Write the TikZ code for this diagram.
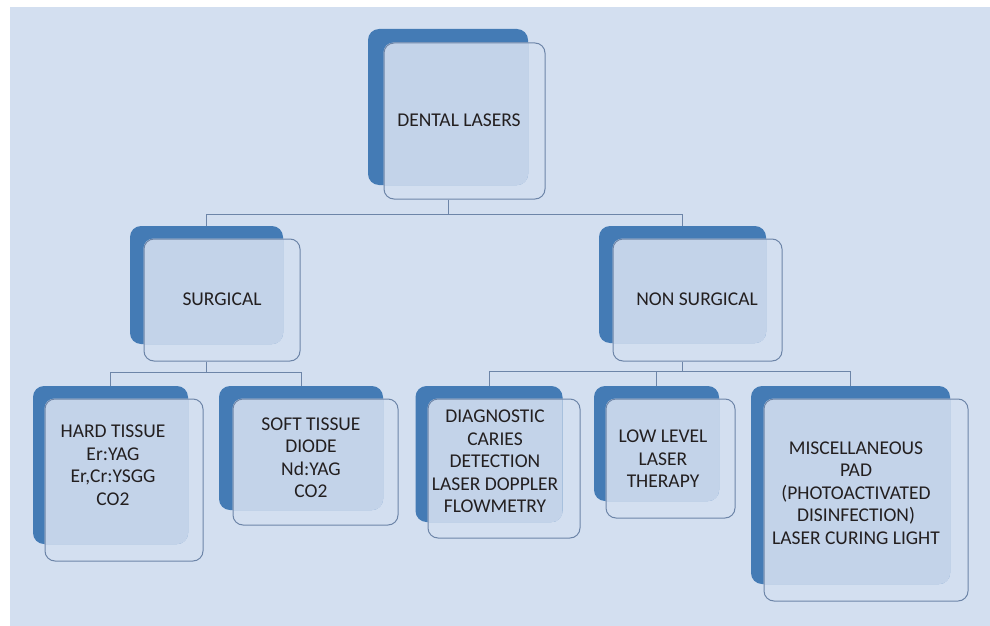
\documentclass[tikz,border=0pt]{standalone}
\usepackage{fontspec}
\setmainfont{Carlito}
\usetikzlibrary{positioning}
\definecolor{pagebg}{HTML}{D3DFF0}
\definecolor{laserblue}{HTML}{447BB5}
\definecolor{lasershade}{HTML}{C3D3E9}
\definecolor{laserline}{HTML}{6D85A8}
\definecolor{lasertext}{HTML}{231F20}
\pgfdeclarelayer{boxbase}
\pgfdeclarelayer{boxshade}
\pgfsetlayers{boxbase,boxshade,main}
\tikzset{
  boxback/.style={fill=laserblue, rounded corners=11pt, inner sep=0pt},
  boxframe/.style={draw=laserline, line width=1pt, rounded corners=10pt, inner sep=0pt},
  boxtext/.style={align=center, inner sep=0pt, text=lasertext,
    font=\fontsize{19.5}{22.5}\selectfont},
  boxlink/.style={draw=laserline, line width=1pt},
}

\begin{document}
\begin{tikzpicture}[x=1pt, y=-1pt]
  \useasboundingbox (0,0) rectangle (990,626);
  \begin{pgfonlayer}{boxbase}
    \fill[pagebg] (10,7) rectangle (990,626);
    % dark blue backs
    \node[boxback, minimum width=160pt, minimum height=156pt] (root) at (448,107) {};
    \node[boxback, minimum width=153pt, minimum height=118pt] (surg) at (206.5,285) {};
    \node[boxback, minimum width=167pt, minimum height=117pt] (nonsurg) at (682.5,284.5) {};
    \node[boxback, minimum width=155pt, minimum height=158pt] (hard) at (110.5,465) {};
    \node[boxback, minimum width=164pt, minimum height=124pt] (soft) at (301,448) {};
    \node[boxback, minimum width=147pt, minimum height=136pt] (diag) at (489,454) {};
    \node[boxback, minimum width=125pt, minimum height=115pt] (low) at (656.5,443.5) {};
    \node[boxback, minimum width=199pt, minimum height=198pt] (misc) at (850.5,485) {};
  \end{pgfonlayer}

  % outlined fronts
  \node[boxframe, minimum width=161pt, minimum height=156pt] (rootframe) at (464.5,121) {};
  \node[boxframe, minimum width=156pt, minimum height=122pt] (surgframe) at (222,300) {};
  \node[boxframe, minimum width=169pt, minimum height=122pt] (nonsurgframe) at (697.5,300) {};
  \node[boxframe, minimum width=158pt, minimum height=162pt] (hardframe) at (124,480) {};
  \node[boxframe, minimum width=165pt, minimum height=126pt] (softframe) at (315.5,462) {};
  \node[boxframe, minimum width=152pt, minimum height=139pt] (diagframe) at (504,468.5) {};
  \node[boxframe, minimum width=129pt, minimum height=119pt] (lowframe) at (670.5,458.5) {};
  \node[boxframe, minimum width=204pt, minimum height=202pt] (miscframe) at (866,500) {};

  % light part where front covers back
  \begin{pgfonlayer}{boxshade}
    \foreach \b in {root,surg,nonsurg,hard,soft,diag,low,misc} {
      \begin{scope}
        \clip[rounded corners=10pt] (\b frame.south west) rectangle (\b frame.north east);
        \fill[lasershade, rounded corners=11pt] (\b.south west) rectangle (\b.north east);
      \end{scope}
    }
  \end{pgfonlayer}

  % labels
  \node[boxtext] (rootlabel) at (459,120) {DENTAL LASERS};
  \node[boxtext] (surglabel) at (222,299) {SURGICAL};
  \node[boxtext] (nonsurglabel) at (697,299) {NON SURGICAL};
  \node[boxtext] (hardlabel) at (113,465) {HARD TISSUE\\Er:YAG\\Er,Cr:YSGG\\CO2};
  \node[boxtext] (softlabel) at (311,457.5) {SOFT TISSUE\\DIODE\\Nd:YAG\\CO2};
  \node[boxtext] (diaglabel) at (495,461.5) {DIAGNOSTIC\\CARIES\\DETECTION\\LASER DOPPLER\\FLOWMETRY};
  \node[boxtext] (lowlabel) at (663,459) {LOW LEVEL\\LASER\\THERAPY};
  \node[boxtext] (misclabel) at (856,493) {MISCELLANEOUS\\PAD\\(PHOTOACTIVATED\\DISINFECTION)\\LASER CURING LIGHT};

  % tree links
  \draw[boxlink] (root |- rootframe.south) -- ++(0,15) coordinate (rootbus);
  \draw[boxlink] (surg.north) |- (rootbus) -| (nonsurg.north);
  \draw[boxlink] (surg |- surgframe.south) -- ++(0,11) coordinate (surgbus);
  \draw[boxlink] (hard.north) |- (surgbus) -| (soft.north);
  \draw[boxlink] (nonsurg |- nonsurgframe.south) -- ++(0,10) coordinate (nonsurgbus);
  \draw[boxlink] (diag.north) |- (nonsurgbus) -| (misc.north);
  \draw[boxlink] (low.north) -- (low |- nonsurgbus);
\end{tikzpicture}
\end{document}
